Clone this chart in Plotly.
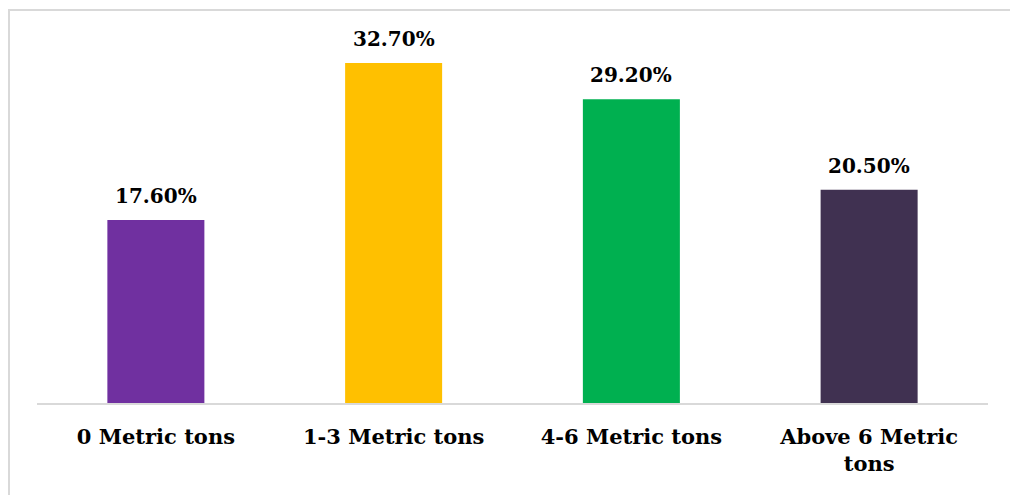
import plotly.graph_objects as go

categories = ["0 Metric tons", "1-3 Metric tons", "4-6 Metric tons", "Above 6 Metric<br>tons"]
values = [17.6, 32.7, 29.2, 20.5]
labels = ["17.60%", "32.70%", "29.20%", "20.50%"]
colors = ["#7030A0", "#FFC000", "#00B050", "#403151"]

W, H = 1010, 495
ml, mr, mt, mb = 37, 22, 25, 92
ymax = 36.35

fig = go.Figure()
fig.add_trace(go.Bar(
    x=categories, y=values, marker=dict(color=colors, line=dict(width=0)),
    hoverinfo="skip",
))

annotations = []
for c, v, t in zip(categories, values, labels):
    annotations.append(dict(
        x=c, y=v, text="<b>" + t + "</b>", showarrow=False,
        yanchor="bottom", yshift=10,
        font=dict(family="DejaVu Serif", size=20, color="#000000"),
    ))

pw = W - ml - mr
ph = H - mt - mb
def px2paper_x(px):
    return (px - ml) / pw
def px2paper_y(py):
    return (H - mb - py) / ph

fig.update_layout(
    width=W, height=H,
    margin=dict(l=ml, r=mr, t=mt, b=mb),
    paper_bgcolor="white", plot_bgcolor="white",
    showlegend=False,
    bargap=0.592,
    annotations=annotations,
    shapes=[dict(
        type="rect", xref="paper", yref="paper",
        x0=px2paper_x(9), x1=px2paper_x(1030),
        y0=px2paper_y(520), y1=px2paper_y(10),
        line=dict(color="#d9d9d9", width=2), layer="below",
    )],
    xaxis=dict(
        showline=True, linecolor="#d9d9d9", linewidth=1.5,
        showgrid=False, ticks="", ticklabelstandoff=14,
        tickfont=dict(family="DejaVu Serif", size=21, color="#000000"),
        tickvals=categories,
        ticktext=["<b>" + c + "</b>" for c in categories],
    ),
    yaxis=dict(
        range=[0, ymax], visible=False, showgrid=False, zeroline=False,
    ),
)

fig.write_html("out.html")
